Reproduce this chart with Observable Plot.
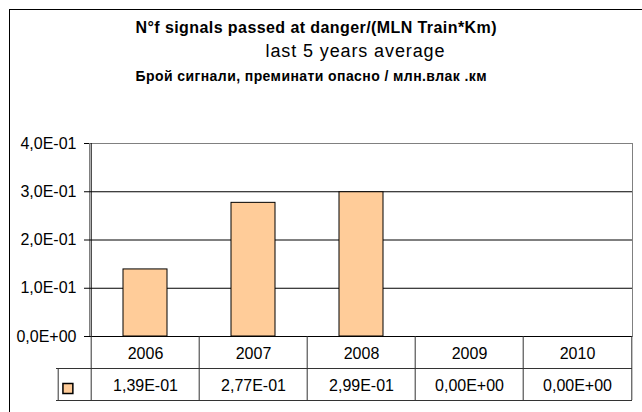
<!DOCTYPE html>
<html>
<head>
<meta charset="utf-8">
<script src="https://cdn.jsdelivr.net/npm/d3@7"></script>
<script src="https://cdn.jsdelivr.net/npm/@observablehq/plot@0.6"></script>
<style>
  html, body { margin: 0; padding: 0; background: #fff; overflow: hidden; }
  #wrap { position: relative; width: 642px; height: 412px; }
  #border { position: absolute; left: 9px; top: 9px; width: 700px; height: 500px; border: 1px solid #000; pointer-events: none; z-index: 2; }
  svg text { font-family: "Liberation Sans", Arial, sans-serif; }
</style>
</head>
<body>
<div id="wrap"><div id="border"></div></div>
<script>
const titleLines = [
  "N°f signals passed at danger/(MLN Train*Km)",
  "last 5 years average",
  "Брой сигнали, преминати опасно / млн.влак .км"
];
const years = ["2006", "2007", "2008", "2009", "2010"];
const values = [0.139, 0.277, 0.299, 0, 0];
const valueLabels = ["1,39E-01", "2,77E-01", "2,99E-01", "0,00E+00", "0,00E+00"];
const yTicks = [0, 0.1, 0.2, 0.3, 0.4];
const yTickLabels = ["0,0E+00", "1,0E-01", "2,0E-01", "3,0E-01", "4,0E-01"];

const data = years.map((y, i) => ({year: y, value: values[i], label: valueLabels[i]}));

const W = 642, H = 412, mL = 89, mR = 10, mT = 143, mB = 76;
const bw = (W - mL - mR) / years.length;
const frameH = H - mT - mB;
const rowH = 32;
const legendW = 33;
const barColor = "#FFCC99";
const tableStroke = "#333";
const frameCx = mL + (W - mL - mR) / 2;

// title styling: [fontSize, weight, centre x, centre y, target width]
const titleStyle = [
  [16, "bold", 315.5, 27, 361],
  [18, "normal", 354.5, 51, 179],
  [14, "bold", 310.5, 76.5, 351]
];

const plot = Plot.plot({
  width: W, height: H,
  marginLeft: mL, marginRight: mR, marginTop: mT, marginBottom: mB,
  style: {fontFamily: "Liberation Sans, Arial, sans-serif", fontSize: "16px", background: "transparent", color: "#000"},
  x: {domain: years, padding: 0, axis: null},
  y: {domain: [0, 0.4], axis: null},
  marks: [
    Plot.frame({stroke: "#808080"}),
    Plot.ruleY([0.1, 0.2, 0.3], {stroke: "#000"}),
    Plot.barY(data, {x: "year", y: "value", fill: barColor, stroke: "#000", insetLeft: 32, insetRight: 32, filter: d => d.value > 0}),
    Plot.ruleY([0], {stroke: "#000"}),
    Plot.ruleX([years[0]], {dx: -bw / 2, stroke: "#000"}),
    Plot.axisY(yTicks, {
      tickFormat: d => yTickLabels[yTicks.indexOf(d)],
      tickSize: 5, tickPadding: 8, fontSize: 16, stroke: "#000", label: null
    }),
    // data table grid
    Plot.ruleX(years, {x: d => d, dx: -bw / 2, insetTop: frameH, insetBottom: -2 * rowH, stroke: tableStroke}),
    Plot.ruleX([years[years.length - 1]], {x: d => d, dx: bw / 2, insetTop: frameH, insetBottom: -2 * rowH, stroke: tableStroke}),
    Plot.ruleX([years[0]], {x: d => d, dx: -bw / 2 - legendW, insetTop: frameH + rowH, insetBottom: -2 * rowH, stroke: tableStroke}),
    Plot.ruleY([0], {dy: rowH, insetLeft: -legendW, stroke: tableStroke}),
    Plot.ruleY([0], {dy: 2 * rowH, insetLeft: -legendW, stroke: tableStroke}),
    Plot.text(years, {x: d => d, frameAnchor: "bottom", lineAnchor: "middle", dy: 17, fontSize: 16, fill: "#000"}),
    Plot.text(data, {x: "year", text: "label", frameAnchor: "bottom", lineAnchor: "middle", dy: 49, fontSize: 16, fill: "#000"}),
    Plot.dot([years[0]], {x: d => d, frameAnchor: "bottom", dx: -77.6, dy: 52, symbol: "square", r: 5.6, fill: barColor, stroke: "#000"}),
    // titles
    ...titleLines.map((t, i) => Plot.text([t], {
      frameAnchor: "top", lineAnchor: "middle",
      dx: titleStyle[i][2] - frameCx, dy: titleStyle[i][3] - mT,
      fontSize: titleStyle[i][0], fontWeight: titleStyle[i][1], fill: "#000"
    }))
  ]
});
document.getElementById("wrap").appendChild(plot);

// stretch title lines to the widths seen in the reference
d3.select(plot).selectAll("text").each(function() {
  const i = titleLines.indexOf(this.textContent);
  if (i >= 0) {
    this.setAttribute("textLength", titleStyle[i][4]);
    this.setAttribute("lengthAdjust", "spacing");
  }
});
</script>
</body>
</html>
